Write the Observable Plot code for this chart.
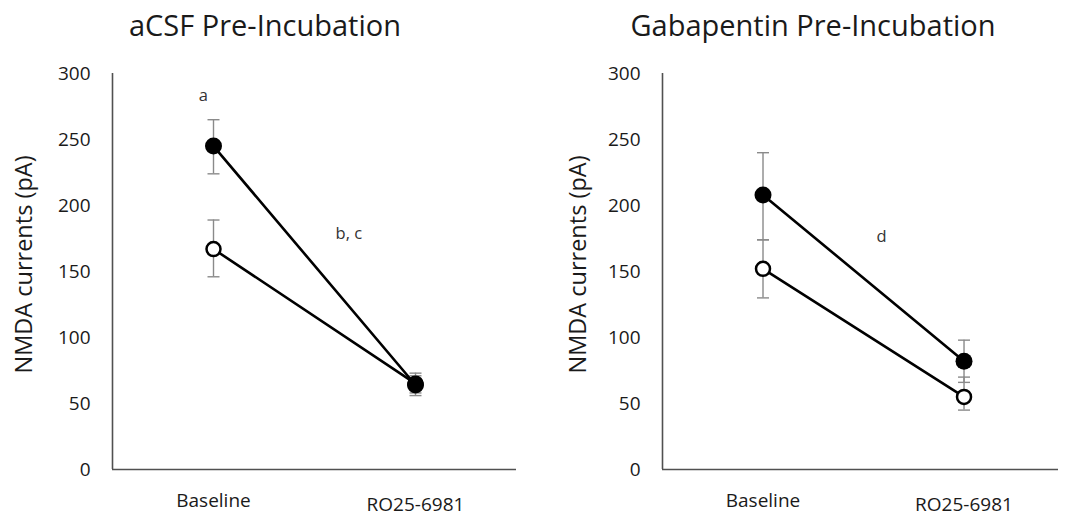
<!DOCTYPE html>
<html>
<head>
<meta charset="utf-8">
<script src="https://cdn.jsdelivr.net/npm/d3@7"></script>
<script src="https://cdn.jsdelivr.net/npm/@observablehq/plot@0.6"></script>
<style>
  body { margin: 0; background: white; }
  #wrap { display: flex; width: 1067px; height: 517px; overflow: hidden; }
  .panel { flex: none; }
  .title { box-sizing: border-box; height: 50px; line-height: 50px; font-family: "Open Sans"; font-size: 29px; color: #1a1a1a; text-align: center; white-space: nowrap; }
</style>
</head>
<body>
<div id="wrap"></div>
<script>
// ---- data ----
const categories = ["Baseline", "RO25-6981"];
const yTicks = [0, 50, 100, 150, 200, 250, 300];
const yLabel = "NMDA currents (pA)";
const titles = ["aCSF Pre-Incubation", "Gabapentin Pre-Incubation"];

// aCSF pre-incubation panel
const acsfFilledMean = [245, 64];
const acsfFilledLow  = [224, 56];
const acsfFilledHigh = [265, 73];
const acsfOpenMean   = [167, 65];
const acsfOpenLow    = [146, 58];
const acsfOpenHigh   = [189, 71];
const acsfNotes  = ["a", "b, c"];
const acsfNoteX  = [-0.05, 0.67];
const acsfNoteY  = [283, 179];

// Gabapentin pre-incubation panel
const gbpFilledMean = [208, 82];
const gbpFilledLow  = [174, 66];
const gbpFilledHigh = [240, 98];
const gbpOpenMean   = [152, 55];
const gbpOpenLow    = [130, 45];
const gbpOpenHigh   = [174, 70];
const gbpNotes = ["d"];
const gbpNoteX = [0.59];
const gbpNoteY = [176];

// ---- helpers ----
function seriesRows(series, mean, lo, hi) {
  return categories.map((c, i) => ({series, i, mean: mean[i], lo: lo[i], hi: hi[i]}));
}
const capSymbol = {
  draw(context, size) {
    const w = Math.sqrt(size / Math.PI);
    context.moveTo(-w, 0);
    context.lineTo(w, 0);
  }
};

function makePanel({title, width, marginLeft, marginRight, xDomain, titlePad, labelDx, filled, open, notes}) {
  const panel = document.createElement("div");
  panel.className = "panel";
  panel.style.width = width + "px";
  const t = document.createElement("div");
  t.className = "title";
  t.style.width = width + "px";
  t.style.paddingLeft = titlePad[0] + "px";
  t.style.paddingRight = titlePad[1] + "px";
  t.textContent = title;
  panel.appendChild(t);

  const rows = [...open, ...filled];
  const chart = Plot.plot({
    width,
    height: 467,
    marginTop: 23,
    marginBottom: 48,
    marginLeft,
    marginRight,
    style: {fontFamily: "Open Sans", background: "white", color: "#1a1a1a", overflow: "visible"},
    x: {domain: xDomain},
    y: {domain: [0, 300]},
    marks: [
      Plot.ruleX([xDomain[0]], {stroke: "#505050", strokeWidth: 1.6}),
      Plot.ruleY([0], {stroke: "#505050", strokeWidth: 1.6}),
      Plot.axisY(yTicks, {tickSize: 0, tickPadding: 22, fontSize: 19, label: null}),
      Plot.axisX([0], {tickSize: 0, tickPadding: 24, fontSize: 19, label: null, tickFormat: (i) => categories[i]}),
      Plot.axisX([1], {tickSize: 0, tickPadding: 28, fontSize: 19, label: null, tickFormat: (i) => categories[i]}),
      Plot.text([yLabel], {frameAnchor: "left", rotate: -90, dx: labelDx, dy: -7, fontSize: 23.5, textAnchor: "middle", lineAnchor: "middle"}),
      Plot.ruleX(rows, {x: "i", y1: "lo", y2: "hi", stroke: "#8a8a8a", strokeWidth: 1.4}),
      Plot.dot(rows, {x: "i", y: "lo", symbol: capSymbol, r: 6, fill: "none", stroke: "#8a8a8a", strokeWidth: 1.4}),
      Plot.dot(rows, {x: "i", y: "hi", symbol: capSymbol, r: 6, fill: "none", stroke: "#8a8a8a", strokeWidth: 1.4}),
      Plot.line(rows, {x: "i", y: "mean", z: "series", stroke: "black", strokeWidth: 2.6}),
      Plot.dot(open, {x: "i", y: "mean", r: 7, fill: "white", stroke: "black", strokeWidth: 2.5}),
      Plot.dot(filled, {x: "i", y: "mean", r: 8.5, fill: "black"}),
      Plot.text(notes, {x: "x", y: "y", text: "text", fontSize: 16.5, fill: "#333"})
    ]
  });
  panel.appendChild(chart);
  return panel;
}

const wrap = document.getElementById("wrap");
wrap.appendChild(makePanel({
  title: titles[0],
  width: 540, marginLeft: 112, marginRight: 24,
  xDomain: [-0.5, 1.5],
  titlePad: [0, 10],
  labelDx: -88.5,
  filled: seriesRows("filled", acsfFilledMean, acsfFilledLow, acsfFilledHigh),
  open: seriesRows("open", acsfOpenMean, acsfOpenLow, acsfOpenHigh),
  notes: acsfNotes.map((text, k) => ({text, x: acsfNoteX[k], y: acsfNoteY[k]}))
}));
wrap.appendChild(makePanel({
  title: titles[1],
  width: 527, marginLeft: 122, marginRight: 9,
  xDomain: [-0.5, 1.47],
  titlePad: [19, 0],
  labelDx: -84.5,
  filled: seriesRows("filled", gbpFilledMean, gbpFilledLow, gbpFilledHigh),
  open: seriesRows("open", gbpOpenMean, gbpOpenLow, gbpOpenHigh),
  notes: gbpNotes.map((text, k) => ({text, x: gbpNoteX[k], y: gbpNoteY[k]}))
}));
</script>
</body>
</html>
